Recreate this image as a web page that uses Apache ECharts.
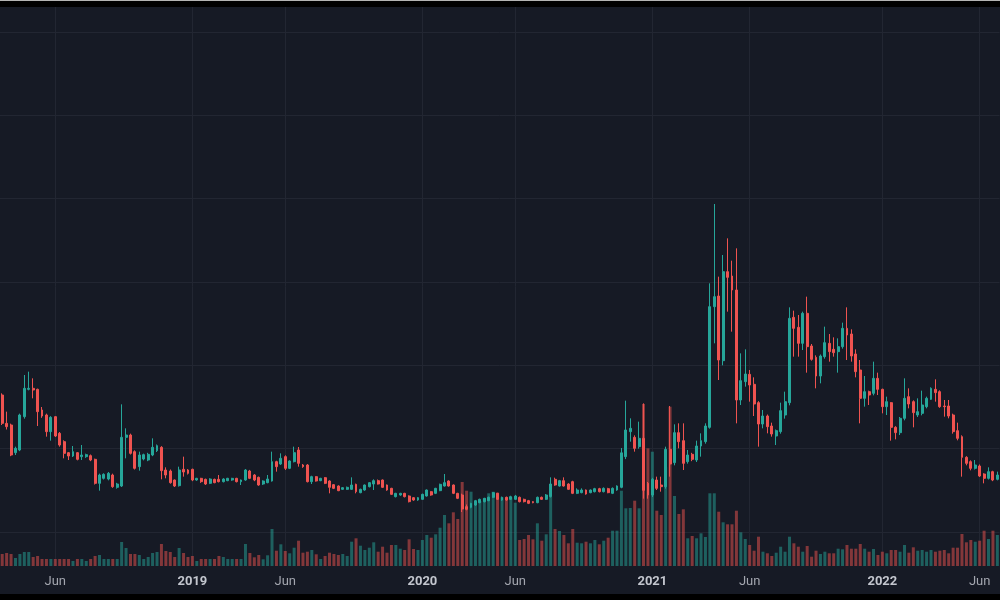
<!DOCTYPE html>
<html><head><meta charset="utf-8">
<style>html,body{margin:0;padding:0;background:#000;overflow:hidden}#c{width:1000px;height:600px}</style>
<script src="https://cdn.jsdelivr.net/npm/echarts@6.0.0/dist/echarts.min.js"></script>
</head><body><div id="c"></div>
<script>
// weekly bars, first bar week of 2018-03-12
const startDate = '2018-03-12';
// [open, close, low, high]
const ohlc = [
[164.4,130.4,128.4,166.4],[130.4,126.4,123,144.4],[128.4,92.4,91,130],[95.2,100.4,92.4,102.4],[98.4,140.4,97,142],
[138.4,172.4,136,188.4],[171.2,172.4,170,192.4],[172.4,170.4,160.4,184.4],[171.2,144.4,127.2,172],[146.4,139.2,137,150],
[140.4,120.4,114.4,142],[120.4,137.6,109.6,139],[138.4,115.2,114,139],[118.4,104.4,102.4,120],[108.4,94.4,88.4,110],
[95.2,91.2,86.4,96],[91.2,96.4,90,103.2],[95.2,87.2,86,96],[90.4,92.4,86.4,104.4],[90.4,92.8,89,94],
[91.6,86.4,85,93],[87.2,58.4,57,88],[58.4,68.4,49.6,70],[64.4,69.2,63,70.4],[63.6,70.4,62,72],
[68.4,54.4,53,70],[53.6,57.6,52,59],[55.2,113.6,54,153.2],[113.6,116.4,88.4,124.4],[116.4,94.4,93,118],
[96.4,76.4,75,98],[78.4,92.4,73.6,96.4],[87.6,92.8,86,94],[86.4,93.2,85,95],[92.4,101.6,91,112.4],
[97.6,103.6,96,105],[101.6,73.6,63.2,103],[74.4,68.4,64.4,77.6],[73.2,59.2,58,75],[62.4,55.2,54,63],
[55.6,74.4,54.5,78.4],[75.2,72,66.4,90.4],[74.4,70.4,69,75.5],[75.2,62.4,61,76],[62.4,64.4,61.5,65],
[64.4,60.4,59,65],[63.2,57.6,56.5,64],[58.4,63.6,57.5,64.5],[63.2,59.2,58.5,64],[63.2,60.4,59.5,68.4],
[60.4,63.6,59.5,64.5],[61.6,64.4,61,65],[62.4,64.4,61.5,65],[64.4,60.4,59.5,65],[60.4,62.4,56.4,63],
[62.4,74.4,61.5,75.5],[73.2,64.4,63.5,74.5],[68.4,62.4,61,69.5],[65.6,56.4,55.5,66.5],[57.6,61.2,56.5,62],
[59.2,63.6,58.5,68.4],[61.2,84.4,60.5,96.4],[84.4,78.4,72.4,85.5],[81.6,88.4,80.5,94.4],[90.4,76.4,74.4,92],
[76.4,85.2,75.5,86],[84.4,95.2,83.5,102.4],[98.4,82.4,78.4,102],[80.4,78.4,77,81.5],[80.4,60.4,59.5,81.5],
[60.4,66.4,57.6,67.5],[66.4,61.2,60.5,67],[61.6,64.4,61,65],[65.2,58.4,57.5,66],[61.2,53.6,46.4,62],
[56.8,52.4,51.5,57.5],[55.2,49.6,49,56],[51.2,53.2,50.5,54],[51.2,53.6,50.5,54.5],[51.2,56.4,50.5,65.6],
[57.2,48.4,46.4,58],[47.2,51.2,46.5,52],[50.4,56.4,49.5,57],[54.4,59.2,53.5,60],[57.6,61.6,50.4,63.2],
[61.6,57.6,57,63],[62.4,53.6,53,63],[56.4,50.4,49.5,57],[52.4,45.2,44.5,53],[42.4,46.4,41.5,47],
[44.4,46.4,43.5,47],[46.4,42.4,41.5,47],[43.2,36.4,35.5,44],[41.2,38.4,37.5,42],[38.4,41.2,37.5,42],
[39.2,45.2,38.5,46],[43.2,50.4,42.5,51],[48.4,44.4,43.5,49],[46.4,52.4,45.5,53],[49.6,57.2,49,58],
[55.2,59.2,54.5,69.6],[61.2,55.2,54.5,62],[56.4,46.4,45.5,57],[46.4,40.4,39.5,47],[44.4,27.6,24,46],
[30.4,27.2,26,33],[29.6,34.4,28.5,35],[32.4,37.6,31.5,38.5],[35.2,39.2,34.5,40],[36.4,40.4,35.5,41],
[37.6,41.6,37,42.5],[41.6,47.2,41,48],[46.4,39.2,38.5,47],[38.4,41.6,37.5,42.5],[41.6,38.4,37.5,42.5],
[39.2,42.4,38.5,43.5],[39.2,43.2,38.5,44.5],[41.6,36.4,35.5,42.5],[39.2,36.4,35.5,40],[37.6,34.4,33.5,38.5],
[36.4,35.2,34.5,37],[35.2,41.6,34.5,42.5],[41.6,39.2,38.5,42.5],[39.2,44.4,38.5,45.5],[42.4,57.6,41.5,65.6],
[63.2,56.4,55.5,65.2],[55.2,61.6,54.5,62.5],[61.6,55.2,54.5,65.6],[57.6,51.2,50.5,58.5],[60.4,46.4,45.5,61.5],
[46.4,50.4,45.5,52.4],[47.2,50.4,46.5,52.4],[50.4,45.6,44.8,51],[47.2,50.4,46.5,51],[48.4,52,47.5,53],
[52,48.4,47.5,53],[48.4,52.4,47.5,53.5],[52,47.2,46.5,53],[46.4,52.4,45.5,53.5],[50.4,55.2,49.5,56],
[53.6,95,52.5,100.8],[90.4,122.4,87.5,157.6],[120.4,124.4,108.4,136.4],[113.6,100.4,96.4,116],[102.4,112.4,100,132.4],
[112.4,50,40,154.4],[58.4,44.4,40,60],[44.4,63.2,42,65],[62.4,52.4,50.4,66.4],[56.4,54.4,48.4,66.4],
[54.4,99.2,52,102.4],[99.2,81.6,66.4,151.2],[83.2,119.2,80,129.2],[119.2,108.4,100.4,130.4],[109.6,82.4,74.4,130.4],
[84.4,92.4,82,98.4],[93.2,87.2,85,95],[86.4,103.2,84,109.6],[103.2,109.6,90.4,118.4],[108.4,127.2,106,130.4],
[125.6,270.4,124,298.4],[270.4,282.4,226.4,393.6],[283.2,206.4,182.4,306.4],[205.6,312.4,200,332.4],[312.4,305.6,264.4,352.4],
[307.2,290.4,240.4,325.6],[290.4,158.4,130.4,340.4],[158.4,181.6,152.4,214.4],[180.4,189.6,174.4,219.2],[189.2,176.4,156.4,194.4],
[177.2,153.6,139.2,185.6],[155.2,129.6,102.4,157],[129.6,139.2,124.4,146.4],[139.2,126.4,118.4,141],[127.2,117.6,114.4,131.2],
[115.2,121.6,104.4,123],[120.4,145.6,118,155.2],[140.4,156.4,136,168.4],[155.2,256.4,152,269.6],[257.6,244.4,210.4,265.6],
[245.6,226.4,210.4,260.4],[226.4,262.4,218.4,264.4],[262.4,222.4,191.2,282.4],[223.2,207.2,205.6,225.6],[209.6,187.2,172.4,212],
[187.2,211.2,178.4,213],[210.4,227.2,208,246.4],[226.4,216.4,204.4,237.6],[219.2,215.2,210.4,233.6],[216.4,222.4,191.2,232.4],
[222.4,244.4,220,251.2],[244.4,236.4,206.4,269.6],[237.6,211.2,204.4,243.2],[213.6,192.4,185.6,219.2],[194.4,160.4,130.4,206.4],
[160.4,168.4,150.4,187.2],[168.4,164.4,152.4,169.6],[166.4,184.4,164,204.4],[184.4,171.2,164.4,191.2],[171.2,150.4,142.4,172],
[150.4,156.4,140.4,162.4],[155.2,125.6,109.6,156],[125.6,119.2,111.2,127],[119.2,136.4,116.4,138],[136.4,160.4,134,184.4],
[162.4,153.6,148.4,172.4],[156.4,143.2,125.6,158],[140.4,144.4,138,160.4],[142.4,152.4,140,169.6],[150.4,160.4,148.4,162.4],
[159.2,172.4,158.4,173.6],[171.2,167.2,156.4,183.2],[168.4,150.4,149,170],[151.2,150.4,138.4,158.4],[151.2,139.2,136.4,158.4],
[140.4,120.4,118,142],[121.6,112.4,110,131.2],[114.4,89.6,66.4,116],[89.6,82.4,80,91],[84.4,76.4,74,86],
[76.4,80.4,75,86.4],[79.2,67.2,66,81],[69.6,64.4,58.4,70.5],[64.4,72.4,63,77.6],[72.4,62.4,61,73.5],
[63.2,68.4,62,72.4]
];
const volume = [
12,13,12,8,12,14,14,9,10,7,7,7,7,7,7,7,5,7,7,5,7,10,11,7,7,7,7,24,18,12,
12,11,7,9,13,14,22,15,14,9,18,13,9,10,5,7,7,7,7,10,9,7,7,7,7,22,13,
8.7,11,6.7,10.7,37,15.3,21.7,15,12.7,18.3,25.3,13.3,14.3,16,11.7,7,10,13.3,12,11,12,10,24.3,27.7,20.3,16,18.3,23.7,14.3,19.3,13.3,21,21,17.3,
16,26.7,17,16,26,31,28.3,31.7,38.3,51,42.7,53.7,47,84,75.3,74.3,65,65,67.7,72.7,74.3,73.3,68.7,68.7,68.7,63.3,26,27,31,26.7,42.7,25.3,31.7,69.3,37,35,31,22.7,37,23.3,22.7,24.3,22.7,26,21.7,25.3,28.3,35.3,35.3,
75.3,57.7,58,65.3,57.7,162,117.7,114.3,55.3,51,99,159.3,70,52,56.7,27.7,30,27.7,32.7,29,72.7,72.7,54.3,43.7,41.7,41.7,55.3,33.7,27,21,
15.3,29.3,14.3,12.7,10,13.3,19.3,14.3,29.3,22.7,19.3,14.3,20,9.3,15.3,12,14.3,12.7,12.7,17.3,16.7,21,17.3,17.3,22,17.3,14.3,17,11,14.3,
12.7,16,16,14.3,21,13.3,18.7,15.3,16,14.3,16,14.3,15.3,16,12.7,18.3,18.3,32,23.7,26,24.3,25.3,35.3,27,35.3,31
];
const tickIndex = [12, 43, 64, 95, 116, 147, 169, 199, 221];
const tickText = ['Jun', '2019', 'Jun', '2020', 'Jun', '2021', 'Jun', '2022', 'Jun'];
const priceMin = 0, priceMax = 600, priceStep = 100;

const categories = [];
let t = Date.parse(startDate + 'T00:00:00Z');
for (let i = 0; i < ohlc.length; i++) { categories.push(new Date(t).toISOString().slice(0, 10)); t += 7 * 864e5; }

const UP = '#26a69a', DOWN = '#ef5350';
const volData = volume.map((v, i) => ({
  value: v,
  itemStyle: { color: ohlc[i][1] >= ohlc[i][0] ? 'rgba(38,166,154,0.5)' : 'rgba(239,83,80,0.5)' }
}));

const band = 4.436, N = ohlc.length;
const gLeft = -0.75 - band / 2, gWidth = N * band;
const GRID = '#222632';

const chart = echarts.init(document.getElementById('c'), null, { renderer: 'canvas' });
chart.setOption({
  backgroundColor: '#161a25',
  animation: false,
  grid: [
    { left: gLeft, width: gWidth, top: 32, height: 500 },
    { left: gLeft, width: gWidth, top: 7, height: 559 }
  ],
  xAxis: [
    { type: 'category', gridIndex: 0, data: categories, boundaryGap: true,
      axisLine: { show: false }, axisTick: { show: false }, axisLabel: { show: false }, splitLine: { show: false } },
    { type: 'category', gridIndex: 1, data: categories, boundaryGap: true,
      axisLine: { show: false }, axisTick: { show: false }, splitLine: { show: false },
      axisLabel: {
        interval: (i) => tickIndex.includes(i),
        formatter: (v, i) => {
          const k = tickIndex.indexOf(i);
          if (k < 0) return '';
          const s = tickText[k];
          return /^\d+$/.test(s) ? '{y|' + s + '}' : '{m|' + s + '}';
        },
        margin: 9,
        rich: {
          y: { color: '#c3c6ce', fontSize: 13, fontWeight: 'bold', fontFamily: 'Roboto' },
          m: { color: '#a3a6af', fontSize: 13, fontFamily: 'Roboto' }
        }
      } }
  ],
  yAxis: [
    { type: 'value', gridIndex: 0, min: priceMin, max: priceMax, interval: priceStep,
      axisLabel: { show: false }, axisLine: { show: false }, axisTick: { show: false },
      splitLine: { show: true, lineStyle: { color: GRID, width: 1 } } },
    { type: 'value', gridIndex: 1, min: 0, max: 559,
      axisLabel: { show: false }, axisLine: { show: false }, axisTick: { show: false }, splitLine: { show: false } }
  ],
  series: [
    { type: 'bar', xAxisIndex: 1, yAxisIndex: 1, data: volData, barWidth: 3, z: 2,
      markLine: { silent: true, z: 1, symbol: ['none', 'none'], label: { show: false },
        lineStyle: { color: GRID, width: 1, type: 'solid' },
        emphasis: { disabled: true },
        data: tickIndex.map(i => ({ xAxis: i })) } },
    { type: 'candlestick', xAxisIndex: 0, yAxisIndex: 0, data: ohlc, barWidth: 2.4, z: 3,
      itemStyle: { color: UP, color0: DOWN, borderColor: UP, borderColor0: DOWN, borderWidth: 1 } }
  ],
  graphic: [
    { type: 'rect', z: 100, shape: { x: 0, y: 0, width: 1000, height: 7 }, style: { fill: '#000' } },
    { type: 'rect', z: 101, shape: { x: 0, y: 0, width: 1000, height: 1 }, style: { fill: '#b4b4b4' } },
    { type: 'rect', z: 100, shape: { x: 0, y: 594, width: 1000, height: 6 }, style: { fill: '#000' } }
  ]
});
</script>
</body></html>
